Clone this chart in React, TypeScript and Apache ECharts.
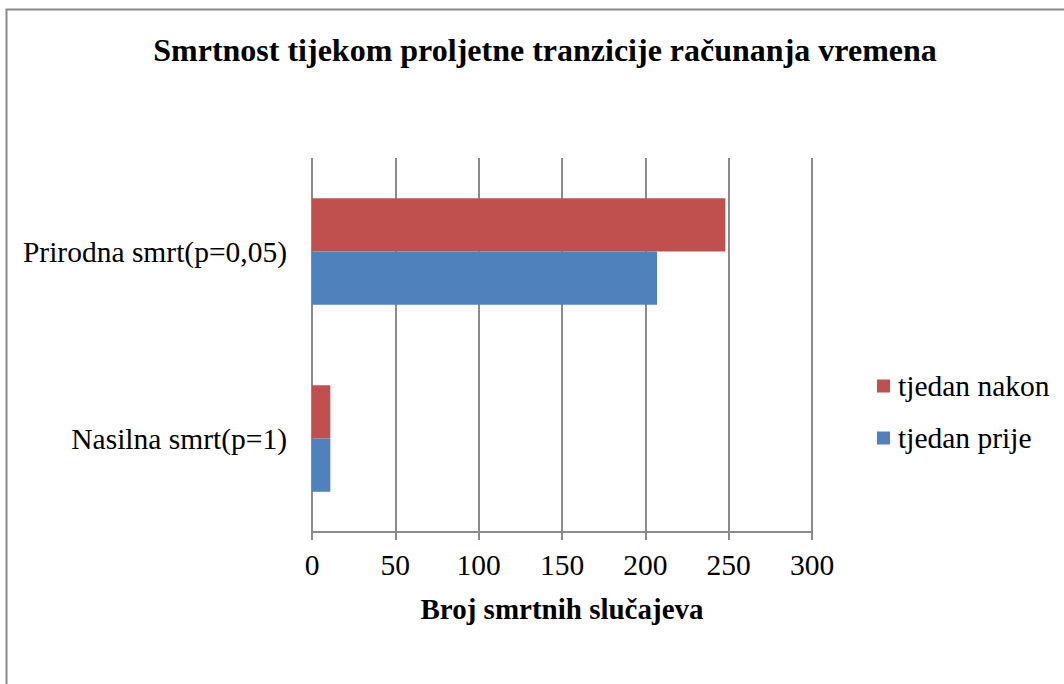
import React, { useEffect, useRef } from "react";
import * as echarts from "echarts";

const categories = ["Nasilna smrt(p=1)", "Prirodna smrt(p=0,05)"];
const seriesNames = ["tjedan nakon", "tjedan prije"];
const nakonValues = [11, 248];
const prijeValues = [11, 207];
const seriesColors = ["#C0504D", "#4F81BD"];
const titleText = "Smrtnost tijekom proljetne tranzicije računanja vremena";
const xAxisName = "Broj smrtnih slučajeva";

const FONT = "'Liberation Serif', 'Times New Roman', serif";

export default function App() {
  const ref = useRef<HTMLDivElement>(null);
  useEffect(() => {
    if (!ref.current) return;
    const chart = echarts.init(ref.current, null, { renderer: "svg" });
    chart.setOption({
      animation: false,
      backgroundColor: "#ffffff",
      textStyle: { fontFamily: FONT, color: "#000" },
      title: {
        text: titleText,
        left: 540,
        textAlign: "center",
        top: 29,
        textStyle: { fontFamily: FONT, fontSize: 32, fontWeight: "bold", color: "#000" },
      },
      graphic: [
        {
          type: "rect",
          shape: { x: 6.5, y: 9.5, width: 1100, height: 720 },
          style: { fill: "none", stroke: "#8a8a8a", lineWidth: 2 },
          silent: true,
        },
      ],
      legend: {
        orient: "vertical",
        left: 872,
        top: 366,
        itemWidth: 13,
        itemHeight: 13,
        itemGap: 22,
        icon: "rect",
        data: seriesNames,
        textStyle: { fontFamily: FONT, fontSize: 29.5, color: "#000", padding: [0, 0, 0, 3] },
      },
      grid: { left: 312, right: 252, top: 158, bottom: 152, containLabel: false },
      xAxis: {
        type: "value",
        min: 0,
        max: 300,
        interval: 50,
        name: xAxisName,
        nameLocation: "middle",
        nameGap: 62,
        nameTextStyle: { fontFamily: FONT, fontSize: 29, fontWeight: "bold", color: "#000" },
        axisLine: { show: true, lineStyle: { color: "#8a8a8a", width: 2 } },
        axisTick: { show: true, length: 8, lineStyle: { color: "#8a8a8a", width: 2 } },
        axisLabel: { fontFamily: FONT, fontSize: 29.5, color: "#000", margin: 18 },
        splitLine: { show: true, lineStyle: { color: "#8a8a8a", width: 2 } },
      },
      yAxis: {
        type: "category",
        data: categories,
        axisLine: { show: false },
        axisTick: { show: false },
        axisLabel: { fontFamily: FONT, fontSize: 29.5, color: "#000", margin: 25 },
        splitLine: { show: false },
      },
      series: [
        {
          name: seriesNames[0],
          type: "bar",
          data: nakonValues,
          itemStyle: { color: seriesColors[0] },
          barGap: "0%",
          barCategoryGap: "43%",
        },
        {
          name: seriesNames[1],
          type: "bar",
          data: prijeValues,
          itemStyle: { color: seriesColors[1] },
          barGap: "0%",
          barCategoryGap: "43%",
        },
      ],
    });
    return () => chart.dispose();
  }, []);
  return (
    <div
      ref={ref}
      style={{ position: "absolute", left: 0, top: 0, width: 1064, height: 684 }}
    />
  );
}
